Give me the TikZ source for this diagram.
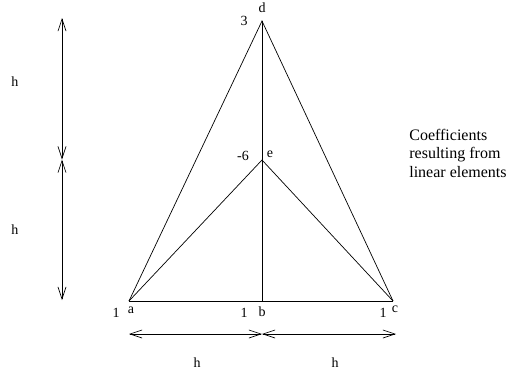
\documentclass[tikz,border=0pt]{standalone}
\usepackage{fontspec}
\setmainfont{Liberation Serif}
\usetikzlibrary{arrows.meta}

\begin{document}
\begin{tikzpicture}[x=1pt, y=-1pt, line width=0.7pt,
    lbl/.style={font=\fontsize{14}{16}\selectfont, inner sep=0pt},
    dim/.style={{Straight Barb[length=12pt,width=8pt]}-{Straight Barb[length=12pt,width=8pt]}}]
  \useasboundingbox (0,0) rectangle (509,375);
  % mesh points
  \coordinate (a) at (129,301);
  \coordinate (b) at (262,301);
  \coordinate (c) at (393,301);
  \coordinate (d) at (262,21);
  \coordinate (e) at (262,160);
  \draw (a) -- (c);
  \draw (a) -- (d) -- (c);
  \draw (a) -- (e) -- (c);
  \draw (b) -- (d);
  % point names and coefficients
  \node[lbl] (na) at (131,310) {a};
  \node[lbl] (nb) at (262,312) {b};
  \node[lbl] (nc) at (395,309) {c};
  \node[lbl] (nd) at (262,8) {d};
  \node[lbl] (ne) at (270,154) {e};
  \node[lbl] (ka) at (116,313) {1};
  \node[lbl] (kb) at (244,313) {1};
  \node[lbl] (kc) at (383,313) {1};
  \node[lbl] (kd) at (244,21) {3};
  \node[lbl] (ke) at (243,156) {-6};
  \node[font=\fontsize{16}{18.5}\selectfont, align=left, anchor=west, inner sep=0pt] (note) at (409,153)
    {Coefficients\\resulting from\\linear elements};
  % dimension arrows
  \coordinate (v0) at (62,18);
  \coordinate (v1) at (62,159.5);
  \coordinate (v2) at (62,300);
  \draw[dim] (v0) -- (v1);
  \draw[dim] (v1) -- (v2);
  \node[lbl] (hv1) at (15,82) {h};
  \node[lbl] (hv2) at (15,230) {h};
  \coordinate (h0) at (129,334);
  \coordinate (h1) at (262,334);
  \coordinate (h2) at (396,334);
  \draw[dim] (h0) -- (h1);
  \draw[dim] (h1) -- (h2);
  \node[lbl] (hh1) at (197,363) {h};
  \node[lbl] (hh2) at (335,363) {h};
\end{tikzpicture}
\end{document}
